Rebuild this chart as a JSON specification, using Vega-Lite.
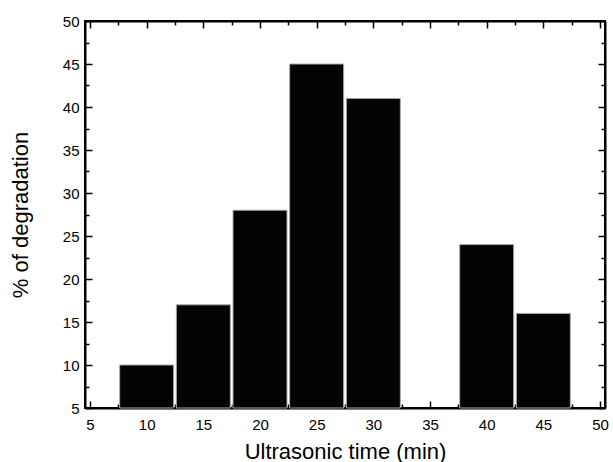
{
  "$schema": "https://vega.github.io/schema/vega-lite/v6.json",
  "width": 520,
  "height": 387,
  "autosize": {"type": "none"},
  "padding": {"left": 85, "top": 21, "right": 8, "bottom": 54},
  "background": "white",
  "config": {
    "view": {"stroke": "black", "strokeWidth": 2},
    "font": "Liberation Sans",
    "axis": {
      "grid": false,
      "domainColor": "black",
      "domainWidth": 2,
      "tickColor": "black",
      "tickWidth": 1.5,
      "labelFont": "Liberation Sans",
      "labelFontSize": 15,
      "labelColor": "black",
      "titleFont": "Liberation Sans",
      "titleFontSize": 22,
      "titleFontWeight": "normal",
      "titleColor": "black"
    }
  },
  "data": {
    "values": [
      {"time": 10, "deg": 10},
      {"time": 15, "deg": 17},
      {"time": 20, "deg": 28},
      {"time": 25, "deg": 45},
      {"time": 30, "deg": 41},
      {"time": 40, "deg": 24},
      {"time": 45, "deg": 16}
    ]
  },
  "layer": [
    {
      "mark": {"type": "bar", "width": 54, "color": "#030303", "stroke": "#aaaaaa", "strokeWidth": 1},
      "encoding": {
        "x": {
          "field": "time", "type": "quantitative",
          "scale": {"domain": [5, 50], "nice": false, "zero": false},
          "axis": {
            "orient": "bottom",
            "title": "Ultrasonic time (min)",
            "values": [5, 7.5, 10, 12.5, 15, 17.5, 20, 22.5, 25, 27.5, 30, 32.5, 35, 37.5, 40, 42.5, 45, 47.5, 50],
            "labelExpr": "datum.value % 5 === 0 ? datum.label : ''",
            "labelFontSize": 15,
            "tickSize": {"condition": {"test": "datum.value % 5 === 0", "value": -7}, "value": -4},
            "labelPadding": 16,
            "labelFlush": false,
            "labelOverlap": false,
            "titlePadding": 6
          }
        },
        "y": {
          "field": "deg", "type": "quantitative",
          "scale": {"domain": [5, 50], "nice": false, "zero": false},
          "axis": {
            "orient": "left",
            "title": "% of degradation",
            "values": [5, 7.5, 10, 12.5, 15, 17.5, 20, 22.5, 25, 27.5, 30, 32.5, 35, 37.5, 40, 42.5, 45, 47.5, 50],
            "labelExpr": "datum.value % 5 === 0 ? datum.label : ''",
            "labelFontSize": 15,
            "tickSize": {"condition": {"test": "datum.value % 5 === 0", "value": -7}, "value": -4},
            "labelPadding": 13,
            "labelFlush": false,
            "labelOverlap": false,
            "titlePadding": 30
          }
        },
        "y2": {"datum": 5}
      }
    },
    {
      "mark": {"type": "point", "opacity": 0},
      "encoding": {
        "x": {
          "field": "time", "type": "quantitative",
          "axis": {
            "orient": "top",
            "title": null,
            "labels": false,
            "values": [5, 7.5, 10, 12.5, 15, 17.5, 20, 22.5, 25, 27.5, 30, 32.5, 35, 37.5, 40, 42.5, 45, 47.5, 50],
            "tickSize": {"condition": {"test": "datum.value % 5 === 0", "value": -7}, "value": -4}
          }
        },
        "y": {
          "field": "deg", "type": "quantitative",
          "axis": {
            "orient": "right",
            "title": null,
            "labels": false,
            "values": [5, 7.5, 10, 12.5, 15, 17.5, 20, 22.5, 25, 27.5, 30, 32.5, 35, 37.5, 40, 42.5, 45, 47.5, 50],
            "tickSize": {"condition": {"test": "datum.value % 5 === 0", "value": -7}, "value": -4}
          }
        }
      }
    }
  ],
  "resolve": {"axis": {"x": "independent", "y": "independent"}}
}
